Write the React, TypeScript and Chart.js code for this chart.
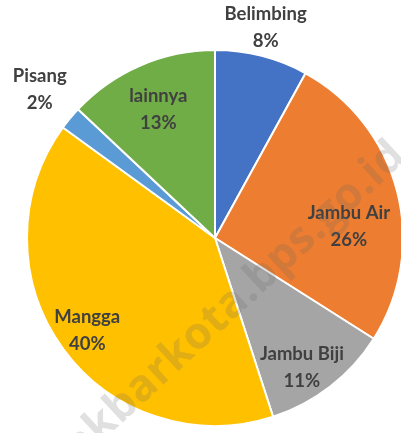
import React, { useEffect, useRef } from "react";
import { Chart, registerables } from "chart.js";

Chart.register(...registerables);

const categories = ["Belimbing", "Jambu Air", "Jambu Biji", "Mangga", "Pisang", "lainnya"];
const shares = [8, 26, 11, 40, 2, 13];
const colors = ["#4472C4", "#ED7D31", "#A5A5A5", "#FFC000", "#5B9BD5", "#70AD47"];
const watermark = "akbarkota.bps.go.id";

// label placement: fraction across the slice angle, and fraction of radius
const labelAngleFrac = [0.47, 0.6, 0.6, 0.5, 0.58, 0.49];
const labelRadiusFrac = [1.15, 0.715, 0.83, 0.84, 1.22, 0.745];

const labelPlugin = {
  id: "sliceLabels",
  afterDatasetsDraw(chart: any) {
    const ctx = chart.ctx;
    const meta = chart.getDatasetMeta(0);
    ctx.save();
    ctx.font = "bold 18.5px Lato";
    ctx.fillStyle = "#404040";
    ctx.textAlign = "center";
    ctx.textBaseline = "middle";
    meta.data.forEach((arc: any, i: number) => {
      const p = arc.getProps(["x", "y", "startAngle", "endAngle", "outerRadius"], true);
      const a = p.startAngle + (p.endAngle - p.startAngle) * labelAngleFrac[i];
      const r = p.outerRadius * labelRadiusFrac[i];
      const x = p.x + Math.cos(a) * r;
      const y = p.y + Math.sin(a) * r;
      ctx.fillText(categories[i], x, y - 13.5);
      ctx.fillText(shares[i] + "%", x, y + 13.5);
    });
    ctx.restore();
  },
};

const watermarkPlugin = {
  id: "watermark",
  afterDraw(chart: any) {
    const ctx = chart.ctx;
    ctx.save();
    ctx.translate(80, 462);
    ctx.rotate(-0.747);
    ctx.font = "bold 44px 'Open Sans'";
    (ctx as any).letterSpacing = "0.5px";
    ctx.fillStyle = "rgba(100,100,100,0.2)";
    ctx.textAlign = "left";
    ctx.textBaseline = "alphabetic";
    ctx.fillText(watermark, 0, 0);
    ctx.restore();
  },
};

export default function App() {
  const ref = useRef<HTMLCanvasElement>(null);
  useEffect(() => {
    document.body.style.margin = "0";
    const chart = new Chart(ref.current!, {
      type: "pie",
      data: {
        labels: categories,
        datasets: [
          {
            data: shares,
            backgroundColor: colors,
            borderColor: "#ffffff",
            borderWidth: 2,
          },
        ],
      },
      options: {
        responsive: false,
        animation: false,
        layout: { padding: { left: 26, right: 36, top: 49, bottom: 6 } },
        plugins: {
          legend: { display: false },
          tooltip: { enabled: false },
        },
      },
      plugins: [labelPlugin, watermarkPlugin],
    });
    return () => chart.destroy();
  }, []);
  return (
    <div style={{ width: 401, height: 433, overflow: "hidden", background: "#fff" }}>
      <canvas ref={ref} width={440} height={433} style={{ display: "block" }} />
    </div>
  );
}
